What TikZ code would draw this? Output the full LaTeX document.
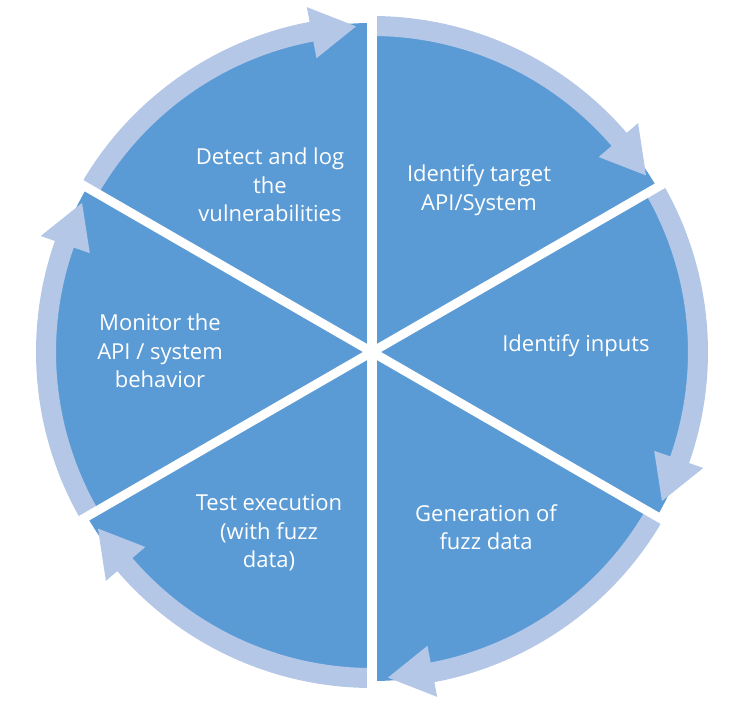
\documentclass[tikz,border=0pt]{standalone}
\usepackage{fontspec}
\setmainfont{Open Sans}
\definecolor{segfill}{RGB}{91,155,213}
\definecolor{ringfill}{RGB}{180,199,231}
\begin{document}
\begin{tikzpicture}[x=1pt,y=1pt,
  segment/.style={fill=segfill},
  ring/.style={fill=ringfill},
  divider/.style={draw=white, line width=9pt},
  steplabel/.style={text=white, align=center, inner sep=0pt,
    font=\fontsize{22}{28.5}\selectfont}]
\useasboundingbox (-372,-362) rectangle (364,352);
\coordinate (c) at (0,0);
% the disc that the six segments are cut from
\fill[segment] (c) circle (329);
% one curved arrow along the rim of each segment, ending near the next divider
\foreach \g [evaluate=\g as \a using \g+60,
             evaluate=\g as \b using \g+10.7,
             evaluate=\g as \t using \g+2.8] in {30,90,150,210,270,330}{
  \fill[ring] (\a:316) arc[start angle=\a, end angle=\b, radius=316]
    -- (\b:299) -- (\t:326) -- (\b:351) -- (\b:336)
    arc[start angle=\b, end angle=\a, radius=336] -- cycle;
}
% white dividers between the segments
\foreach \g in {30,90,150,210,270,330}{
  \draw[divider] (c) -- (\g:345);
}
\node[steplabel] (detect)   at (-102,167) {Detect and log\\the\\vulnerabilities};
\node[steplabel] (target)   at (107,162)  {Identify target\\API/System};
\node[steplabel] (inputs)   at (204,6)    {Identify inputs};
\node[steplabel] (generate) at (114,-175) {Generation of\\fuzz data};
\node[steplabel] (execute)  at (-103,-181) {Test execution\\(with fuzz\\data)};
\node[steplabel] (monitor)  at (-212,1)   {Monitor the\\API / system\\behavior};
\end{tikzpicture}
\end{document}
